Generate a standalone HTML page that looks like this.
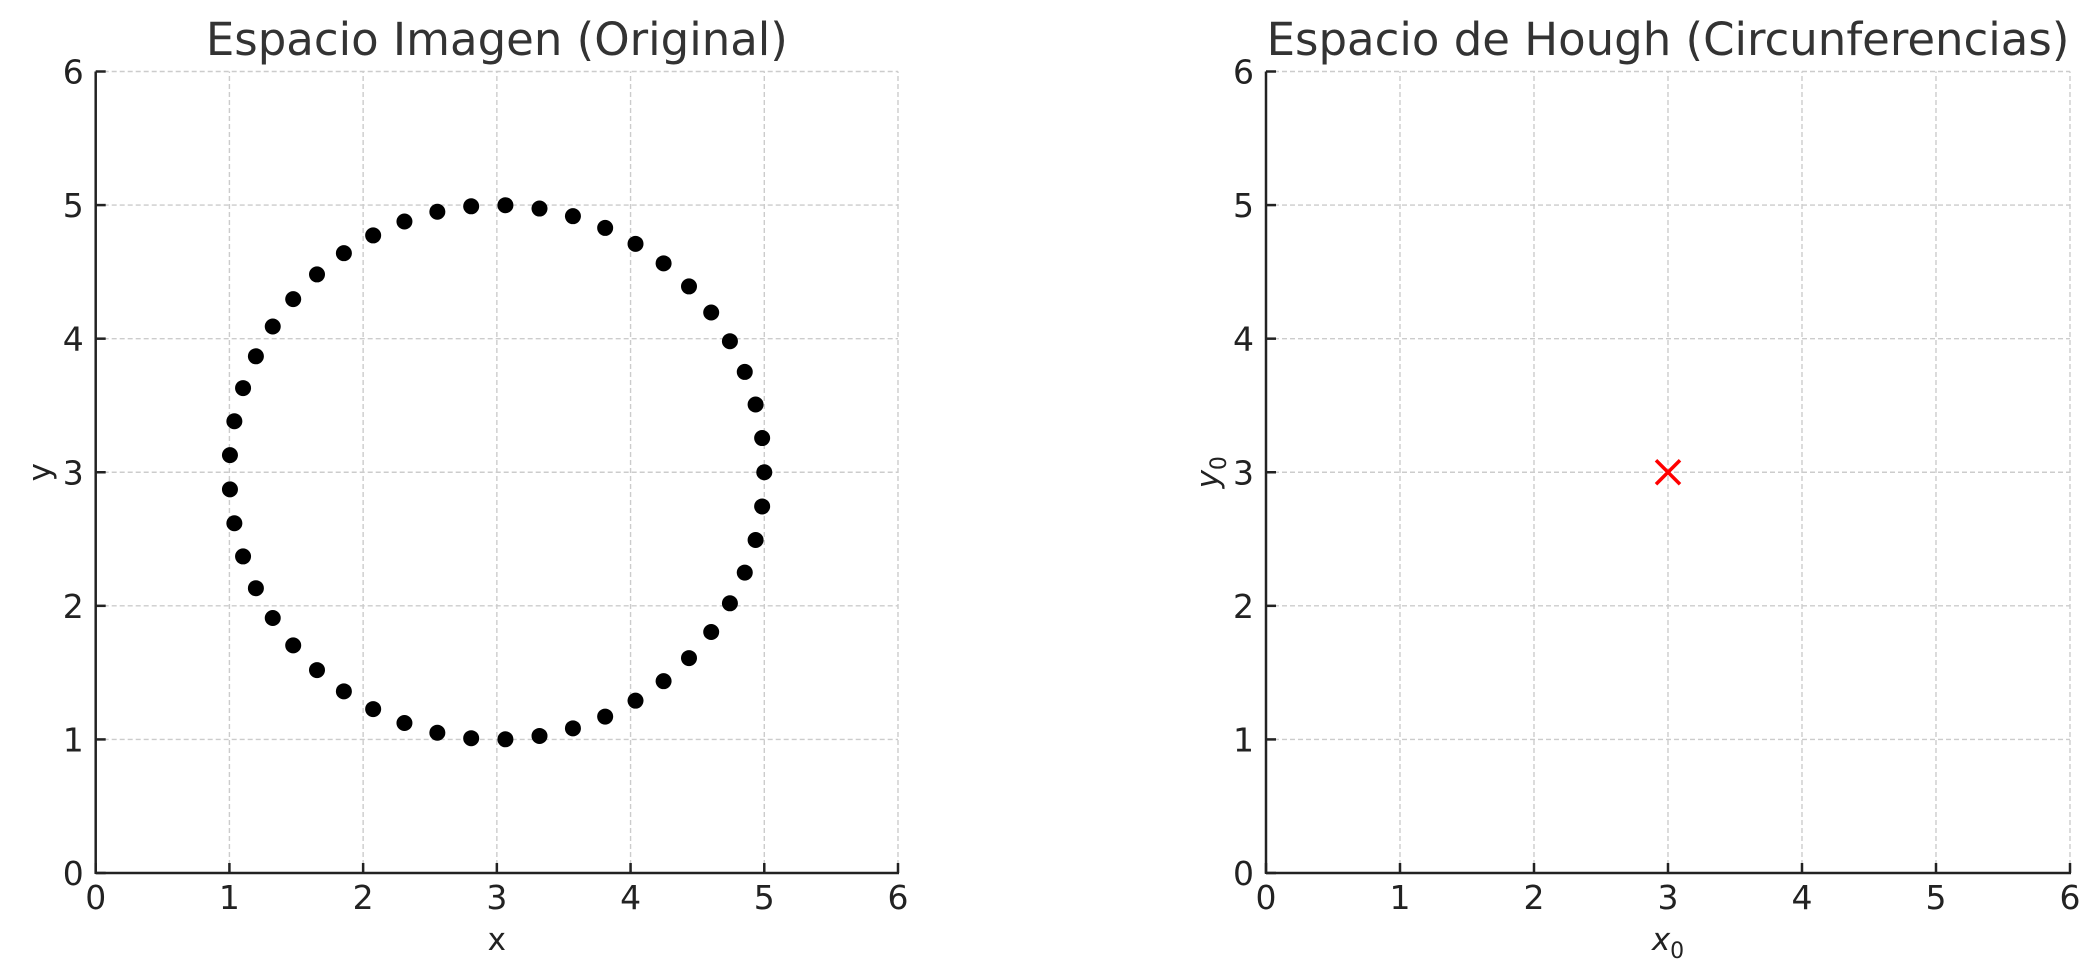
<!DOCTYPE html>
<html><head><meta charset="utf-8"><style>
html,body{margin:0;padding:0;background:#fff}
svg{display:block}
text{font-family:"DejaVu Sans","Liberation Sans",sans-serif}
</style></head><body>
<svg id="fig" width="2099" height="980" viewBox="0 0 2099 980" xmlns="http://www.w3.org/2000/svg"></svg>
<script>
const ticks = [0,1,2,3,4,5,6];
const tickLabels = ["0","1","2","3","4","5","6"];
const circleX = [5.000,4.984,4.935,4.854,4.743,4.603,4.437,4.247,4.037,3.810,3.569,3.319,3.064,2.808,2.555,2.309,2.075,1.856,1.655,1.477,1.324,1.198,1.102,1.037,1.004,1.004,1.037,1.102,1.198,1.324,1.477,1.655,1.856,2.075,2.309,2.555,2.808,3.064,3.319,3.569,3.810,4.037,4.247,4.437,4.603,4.743,4.854,4.935,4.984];
const circleY = [3.000,3.256,3.507,3.751,3.981,4.196,4.391,4.564,4.710,4.829,4.917,4.974,4.999,4.991,4.950,4.877,4.773,4.640,4.481,4.296,4.091,3.868,3.630,3.382,3.128,2.872,2.618,2.370,2.132,1.909,1.704,1.519,1.360,1.227,1.123,1.050,1.009,1.001,1.026,1.083,1.171,1.290,1.436,1.609,1.804,2.019,2.249,2.493,2.744];
const centerX = [3];
const centerY = [3];

const NS = "http://www.w3.org/2000/svg";
const svg = document.getElementById("fig");
function mk(tag, attrs, parent){
  const e = document.createElementNS(NS, tag);
  for (const k in attrs) e.setAttribute(k, attrs[k]);
  (parent||svg).appendChild(e);
  return e;
}
const Y0 = 873, Y6 = 71.5;
function makeAxes(name, x0, x6, title, xl, yl, ylx){
  const g = mk("g", {});
  
  
  const sx = v => x0 + (x6 - x0) * v / 6;
  const sy = v => Y0 - (Y0 - Y6) * v / 6;
  ticks.forEach((t, i) => {
    if (t > 0) {
      const gv = mk("line", {x1:sx(t), x2:sx(t), y1:Y0, y2:Y6, stroke:"#cccccc", "stroke-width":1.4, "stroke-dasharray":"5,3"}, g);
      
      
      const gh = mk("line", {x1:x0, x2:x6, y1:sy(t), y2:sy(t), stroke:"#cccccc", "stroke-width":1.4, "stroke-dasharray":"5,3"}, g);
      
      
    }
    const tx = mk("line", {x1:sx(t), x2:sx(t), y1:Y0, y2:Y0-10, stroke:"#222", "stroke-width":2.5}, g);
    
    
    const ty = mk("line", {x1:x0, x2:x0+10, y1:sy(t), y2:sy(t), stroke:"#222", "stroke-width":2.5}, g);
    
    
    const lx = mk("text", {x:sx(t), y:909, "font-size":33, fill:"#222", "text-anchor":"middle"}, g);
    lx.textContent = tickLabels[i];
    
    
    const ly = mk("text", {x:x0-12, y:sy(t)+12, "font-size":33, fill:"#222", "text-anchor":"end"}, g);
    ly.textContent = tickLabels[i];
    
    
  });
  const sp1 = mk("line", {x1:x0, x2:x6+1, y1:Y0, y2:Y0, stroke:"#222", "stroke-width":2.5}, g);
  
  
  const sp2 = mk("line", {x1:x0, x2:x0, y1:Y0+1, y2:Y6, stroke:"#222", "stroke-width":2.5}, g);
  
  
  const tt = mk("text", {x:(x0+x6)/2, y:55, "font-size":45, fill:"#333", "text-anchor":"middle"}, g);
  tt.textContent = title;
  
  
  const xt = mk("text", {x:(x0+x6)/2, y:950, "font-size":31, fill:"#222", "text-anchor":"middle"}, g);
  xt.innerHTML = xl;
  
  
  const yt = mk("text", {x:0, y:0, "font-size":31, fill:"#222", "text-anchor":"middle", transform:`translate(${ylx},${sy(3)}) rotate(-90)`}, g);
  yt.innerHTML = yl;
  
  
  return {g, sx, sy};
}
const A = makeAxes("left-chart", 95.7, 898, "Espacio Imagen (Original)", "x", "y", 50);
circleX.forEach((v, i) => {
  const c = mk("circle", {cx:A.sx(v), cy:A.sy(circleY[i]), r:8, fill:"#000"}, A.g);
  
  
});
const B = makeAxes("right-chart", 1266, 2070, "Espacio de Hough (Circunferencias)",
  '<tspan font-style="italic">x</tspan><tspan font-size="22" dy="8">0</tspan>',
  '<tspan font-style="italic">y</tspan><tspan font-size="22" dy="8">0</tspan>', 1218);
centerX.forEach((v, i) => {
  const cx = B.sx(v), cy = B.sy(centerY[i]), s = 12;
  const p = mk("path", {d:`M${cx-s},${cy-s}L${cx+s},${cy+s}M${cx-s},${cy+s}L${cx+s},${cy-s}`, stroke:"#ff0000", "stroke-width":3.5, fill:"none"}, B.g);
  
  
});
</script>
</body></html>
